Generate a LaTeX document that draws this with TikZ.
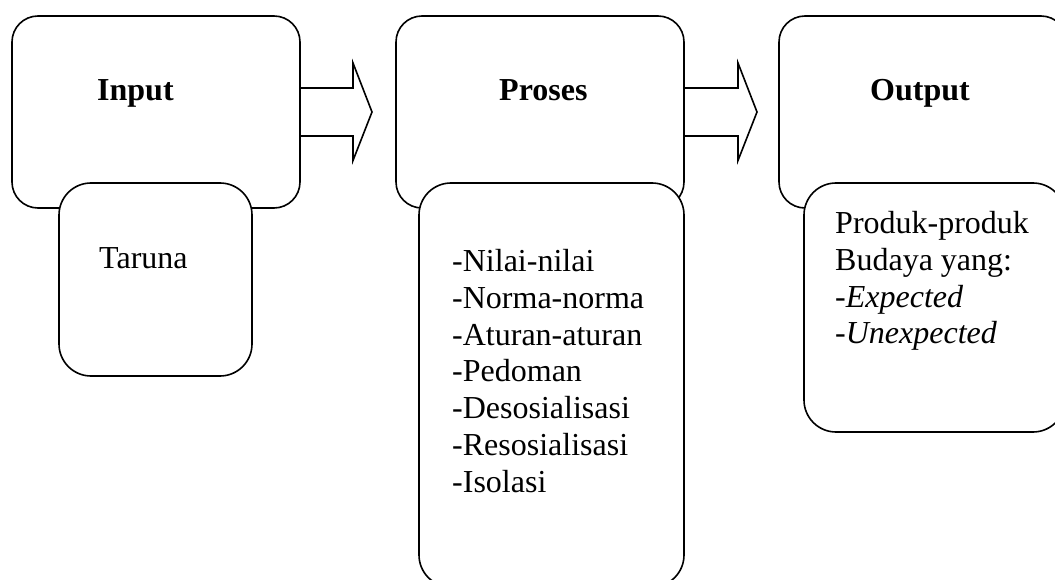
\documentclass[tikz,border=0pt]{standalone}
\usepackage{fontspec}
\setmainfont{Liberation Serif}
\usetikzlibrary{calc}
\begin{document}
\begin{tikzpicture}[x=1pt,y=-1pt,
  outerbox/.style={draw,line width=1.6pt,rounded corners=26pt,minimum width=288pt,minimum height=192pt,inner sep=0pt,outer sep=0pt,anchor=north west},
  innerbox/.style={draw,fill=white,line width=1.6pt,rounded corners=32pt,inner sep=0pt,outer sep=0pt,anchor=north west},
  head/.style={font=\fontsize{32}{36.8}\selectfont\bfseries,inner sep=0pt,anchor=base west},
  body/.style={font=\fontsize{32}{36.8}\selectfont,inner sep=0pt,align=left,anchor=north west},
  blockarrow/.style={draw,line width=1.6pt,line join=miter}]
\useasboundingbox (0,0) rectangle (1055,580);
% outer boxes
\node[outerbox] (in) at (12,16) {};
\node[outerbox] (pr) at (396,16) {};
\node[outerbox] (ou) at (779,16) {};
% inner boxes
\node[innerbox,minimum width=193pt,minimum height=193pt] (tar) at (59,183) {};
\node[innerbox,minimum width=265pt,minimum height=404pt] (prl) at (419,183) {};
\node[innerbox,minimum width=261pt,minimum height=249pt] (oul) at (804,183) {};
% block arrows
\draw[blockarrow] ($(in.east)+(0,-24)$) -- ++(53,0) -- ++(0,-25) -- ++(19,49) -- ++(-19,48.5) -- ++(0,-24.5) -- ($(in.east)+(0,24)$);
\draw[blockarrow] ($(pr.east)+(0,-24)$) -- ++(54,0) -- ++(0,-25) -- ++(19,49) -- ++(-19,48.5) -- ++(0,-24.5) -- ($(pr.east)+(0,24)$);
% texts
\node[head] (inT) at (97,101) {Input};
\node[head] (prT) at (499,101) {Proses};
\node[head] (ouT) at (870,101) {Output};
\node[body,anchor=base west] (tarT) at (99,269) {Taruna};
\node[body] (prLT) at (452,249) {-Nilai-nilai\\-Norma-norma\\-Aturan-aturan\\-Pedoman\\-Desosialisasi\\-Resosialisasi\\-Isolasi};
\node[body] (ouLT) at (835,211) {Produk-produk\\Budaya yang:\\-\textit{Expected}\\-\textit{Unexpected}};
\end{tikzpicture}
\end{document}
